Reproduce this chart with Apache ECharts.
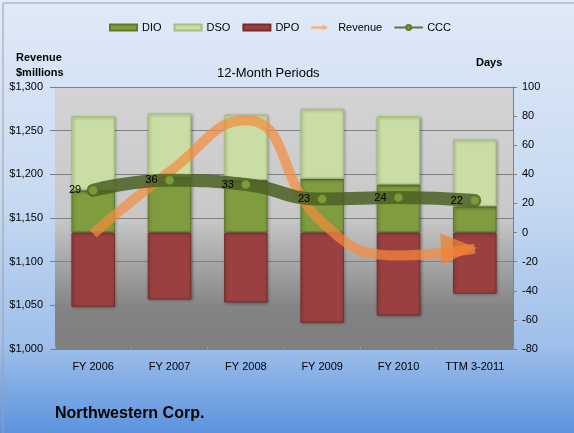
<!DOCTYPE html>
<html>
<head>
<meta charset="utf-8">
<script src="https://cdn.jsdelivr.net/npm/echarts@6/dist/echarts.min.js"></script>
<style>
  html, body { margin: 0; padding: 0; }
  #chart { width: 574px; height: 433px; }
</style>
</head>
<body>
<div id="chart"></div>
<script>
// values
const periods = ['FY 2006', 'FY 2007', 'FY 2008', 'FY 2009', 'FY 2010', 'TTM 3-2011']
const dio = [29, 38, 36, 37, 33, 18]
const dso = [51, 44, 45, 48, 47, 46]
const dpo = [-51, -46, -48, -62, -57, -42]
const ccc = [29, 36, 33, 23, 24, 22]
const revenue = [1132, 1203, 1262, 1145, 1107, 1115]

const revenueTicks = { min: 1000, max: 1300, interval: 50 }
const dayTicks = { min: -80, max: 100, interval: 20 }

const font = 'Liberation Sans'
const G = echarts.graphic.LinearGradient

const chart = echarts.init(document.getElementById('chart'))

function barStyle (color, border) {
  return {
    color: color,
    borderColor: border,
    borderWidth: 1,
    shadowColor: 'rgba(0,0,0,0.35)',
    shadowBlur: 3,
    shadowOffsetX: 1,
    shadowOffsetY: 1
  }
}

// revenue data, last point carries the arrow head
const revenueData = revenue.map((v, i) => {
  if (i < revenue.length - 1) return v
  return {
    value: v,
    symbol: 'triangle',
    symbolSize: [32, 36],
    symbolRotate: -88,
    symbolOffset: [-16, 0],
    itemStyle: { color: 'rgba(240,130,50,0.75)' }
  }
})

const option = {
  backgroundColor: new G(0, 0, 0, 1, [
    { offset: 0, color: '#e0eaf8' },
    { offset: 0.45, color: '#c8daf2' },
    { offset: 0.8, color: '#9ebfea' },
    { offset: 1, color: '#5b93dd' }
  ]),
  textStyle: { fontFamily: font },
  title: [
    { text: 'Revenue\n$millions', left: 11, top: 45, textStyle: { fontSize: 11, fontWeight: 'bold', color: '#000', lineHeight: 15 } },
    { text: 'Days', left: 471, top: 52, textStyle: { fontSize: 11, fontWeight: 'bold', color: '#000' } },
    { text: '12-Month Periods', left: 212, top: 62, textStyle: { fontSize: 13, fontWeight: 'normal', color: '#000' } },
    { text: 'Northwestern Corp.', left: 50, top: 401, textStyle: { fontSize: 16, fontWeight: 'bold', color: '#000' } }
  ],
  legend: {
    top: 17,
    left: 104,
    itemWidth: 27,
    itemHeight: 6,
    itemGap: 12,
    textStyle: { fontSize: 11, color: '#000', fontFamily: font },
    data: [
      { name: 'DIO', icon: 'rect' },
      { name: 'DSO', icon: 'rect' },
      { name: 'DPO', icon: 'rect' },
      { name: 'Revenue', icon: 'path://M0,3 L19,3 L19,0 L28,5 L19,10 L19,7 L0,7 Z', itemStyle: { color: '#f5b183' } },
      { name: 'CCC' }
    ]
  },
  grid: {
    left: 55,
    right: 61,
    top: 87,
    bottom: 84,
    show: true,
    borderWidth: 0,
    backgroundColor: new G(0, 0, 0, 1, [
      { offset: 0, color: '#d4d4d4' },
      { offset: 0.5, color: '#c8c8c8' },
      { offset: 0.85, color: '#838383' },
      { offset: 1, color: '#7f7f7f' }
    ])
  },
  xAxis: {
    type: 'category',
    data: periods,
    axisLine: { show: false, onZero: false },
    axisTick: { show: true, inside: true, length: 3, lineStyle: { color: '#9a9a9a' } },
    axisLabel: { fontSize: 11, color: '#000', margin: 12, interval: 0 }
  },
  yAxis: [
    {
      type: 'value',
      min: revenueTicks.min,
      max: revenueTicks.max,
      interval: revenueTicks.interval,
      axisLine: { show: false },
      axisTick: { show: true, length: 5, lineStyle: { color: '#808080' } },
      axisLabel: {
        fontSize: 11,
        color: '#000',
        margin: 12,
        formatter: v => '$' + v.toLocaleString('en-US')
      },
      splitLine: { lineStyle: { color: '#808080', width: 1 } }
    },
    {
      type: 'value',
      min: dayTicks.min,
      max: dayTicks.max,
      interval: dayTicks.interval,
      position: 'right',
      axisLine: { show: true, lineStyle: { color: '#808080' } },
      axisTick: { show: true, length: 4, lineStyle: { color: '#808080' } },
      axisLabel: { fontSize: 11, color: '#000', margin: 9 },
      splitLine: { show: false }
    }
  ],
  series: [
    {
      name: 'DIO', type: 'bar', yAxisIndex: 1, stack: 'days', data: dio,
      barWidth: '57%', itemStyle: barStyle('#7f9c3f', '#5e7a28')
    },
    {
      name: 'DSO', type: 'bar', yAxisIndex: 1, stack: 'days', data: dso,
      barWidth: '57%', itemStyle: barStyle('#cadda5', '#a6bf7a')
    },
    {
      name: 'DPO', type: 'bar', yAxisIndex: 1, stack: 'days', data: dpo,
      barWidth: '57%', itemStyle: barStyle('#9a4040', '#772c2c')
    },
    {
      name: 'Revenue', type: 'line', yAxisIndex: 0, data: revenueData,
      smooth: 0.5,
      symbol: 'none',
      lineStyle: { color: 'rgba(245,140,60,0.7)', width: 10, cap: 'butt' },
      itemStyle: { color: 'rgba(245,140,60,0.7)' },
      z: 3
    },
    {
      name: 'CCC', type: 'line', yAxisIndex: 1, data: ccc,
      smooth: 0.5,
      symbol: 'circle',
      symbolSize: 9,
      lineStyle: { color: 'rgba(75,96,35,0.85)', width: 13, cap: 'round' },
      itemStyle: { color: '#7c9c3a', borderColor: '#5c7a24', borderWidth: 1 },
      label: { show: true, position: 'left', distance: 7, fontSize: 11, color: '#000' },
      z: 4
    }
  ],
  graphic: [
    {
      type: 'rect',
      left: 0.5, top: 0.5,
      shape: { width: 572, height: 431 },
      style: { fill: 'none', stroke: '#a0a0a0', lineWidth: 1 },
      silent: true
    }
  ]
}

chart.setOption(option)
</script>
</body>
</html>
